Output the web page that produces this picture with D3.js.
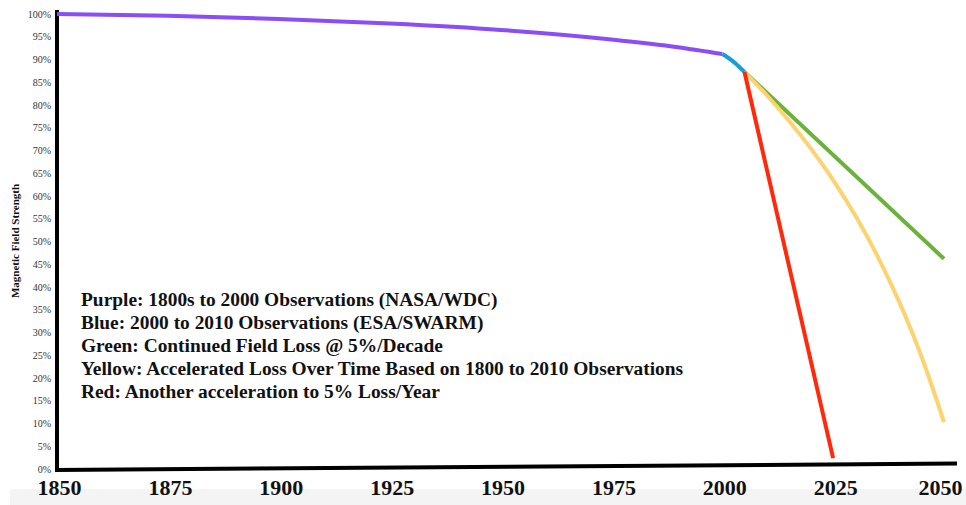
<!DOCTYPE html>
<html>
<head>
<meta charset="utf-8">
<script src="https://cdn.jsdelivr.net/npm/d3@7"></script>
<style>
  html, body { margin: 0; padding: 0; background: #fff; }
  svg { display: block; }
</style>
</head>
<body>
<svg id="chart" width="966" height="505"></svg>
<script>
// Observed and projected magnetic field strength (% of 1850 level)
const purpleYears = [1850, 1875, 1900, 1925, 1950, 1975, 1990, 2000];
const purpleValues = [100, 99.6, 98.9, 97.9, 96.5, 94.4, 92.7, 91.2];

const blueYears = [2000, 2001, 2002, 2003, 2004, 2005];
const blueValues = [91.2, 90.6, 89.9, 89.1, 88.2, 87.3];

const greenYears = [2005, 2050];
const greenValues = [87.3, 46.2];

const yellowYears = [2005, 2010, 2015, 2020, 2025, 2030, 2035, 2040, 2045, 2050];
const yellowValues = [87.3, 82.2, 76.6, 70.4, 63.5, 55.7, 46.8, 36.5, 24.5, 10.3];

const redYears = [2005, 2025];
const redValues = [87.3, 2.4];

const xTicks = [1850, 1875, 1900, 1925, 1950, 1975, 2000, 2025, 2050];
const yTicks = d3.range(0, 101, 5);

const legendLines = [
  "Purple: 1800s to 2000 Observations (NASA/WDC)",
  "Blue: 2000 to 2010 Observations (ESA/SWARM)",
  "Green: Continued Field Loss @ 5%/Decade",
  "Yellow: Accelerated Loss Over Time Based on 1800 to 2010 Observations",
  "Red: Another acceleration to 5% Loss/Year"
];

const seriesList = [
  { years: purpleYears, values: purpleValues, color: "#8a4df6" },
  { years: blueYears, values: blueValues, color: "#1a9dd6" },
  { years: greenYears, values: greenValues, color: "#6bb23b" },
  { years: yellowYears, values: yellowValues, color: "#fcd36f" },
  { years: redYears, values: redValues, color: "#ff2a0c" }
];

const svg = d3.select("#chart");
const serif = "'Liberation Serif', 'Times New Roman', serif";

const x = d3.scaleLinear().domain([1850, 2050]).range([57, 944]);
const y = d3.scaleLinear().domain([0, 100]).range([469, 14]);

// light band along the bottom edge
svg.append("rect")
  .attr("x", 10).attr("y", 489).attr("width", 956).attr("height", 16)
  .attr("fill", "#f4f4f4");

// y axis labels
const yAxis = d3.axisLeft(y).tickValues(yTicks).tickSize(0).tickPadding(6)
  .tickFormat(d => d + "%");
const yg = svg.append("g").attr("transform", "translate(57,0)").call(yAxis);
yg.select(".domain").remove();
yg.selectAll("text")
  .attr("font-family", serif).attr("font-size", 10).attr("fill", "#333");

// x axis labels
const xAxis = d3.axisBottom(x).tickValues(xTicks).tickSize(0).tickPadding(0)
  .tickFormat(d3.format("d"));
const xg = svg.append("g").attr("transform", "translate(2,479)").call(xAxis);
xg.select(".domain").remove();
xg.selectAll("text")
  .attr("font-family", serif).attr("font-size", 22).attr("font-weight", "bold")
  .attr("fill", "#111")
  .attr("dx", d => d === 2050 ? -6 : 0);

// axis lines
svg.append("line")
  .attr("x1", 57).attr("y1", 10).attr("x2", 57).attr("y2", 472)
  .attr("stroke", "#000").attr("stroke-width", 4);
svg.append("line")
  .attr("x1", 55).attr("y1", y(0) + 1).attr("x2", 957).attr("y2", y(0) - 5.5)
  .attr("stroke", "#000").attr("stroke-width", 4);

// y axis title
svg.append("text")
  .attr("transform", "translate(19,241) rotate(-90)")
  .attr("text-anchor", "middle")
  .attr("font-family", serif).attr("font-size", 11).attr("font-weight", "bold")
  .attr("fill", "#111")
  .text("Magnetic Field Strength");

// series lines
const line = d3.line()
  .x(d => x(d[0]))
  .y(d => y(d[1]))
  .curve(d3.curveMonotoneX);

seriesList.forEach(s => {
  const pts = s.years.map((yr, i) => [yr, s.values[i]]);
  svg.append("path")
    .attr("d", line(pts))
    .attr("fill", "none")
    .attr("stroke", s.color)
    .attr("stroke-width", 4);
});

// legend text
svg.append("g").selectAll("text")
  .data(legendLines)
  .join("text")
  .attr("x", 81)
  .attr("y", (d, i) => 306 + i * 23)
  .attr("font-family", serif).attr("font-size", 19.4).attr("font-weight", "bold")
  .attr("fill", "#111")
  .text(d => d);
</script>
</body>
</html>
